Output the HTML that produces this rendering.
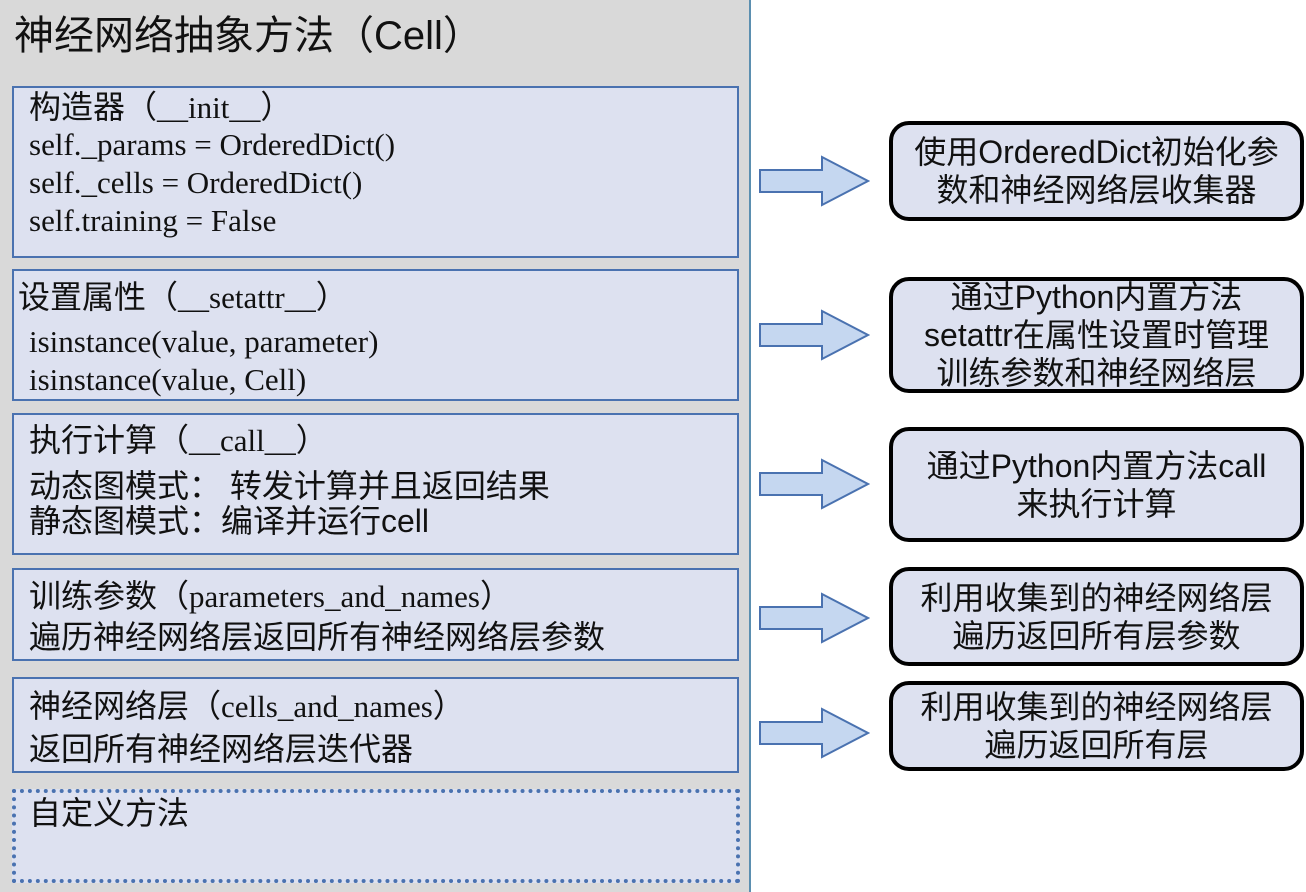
<!DOCTYPE html>
<html><head><meta charset="utf-8"><style>
body{margin:0;width:1306px;height:892px;background:#fff;position:relative;overflow:hidden;font-family:"Liberation Sans","Noto Sans CJK SC",sans-serif;color:#111}
.panel{position:absolute;left:0;top:0;width:749px;height:892px;background:#d9d9d9;border-right:2px solid #5b8fb0}
.b{position:absolute;left:12px;width:723px;background:#dde1f0;border:2px solid #4a72b0}
.t{position:absolute;white-space:nowrap;line-height:1;font-size:32px}
.s{font-family:"Liberation Serif","Noto Sans CJK SC",serif;font-size:31px}
.r{position:absolute;left:889px;width:415px;background:#dde1f0;border:4px solid #000;border-radius:20px;box-sizing:border-box;display:flex;flex-direction:column;justify-content:center;align-items:center;font-size:32px;line-height:38px;text-align:center;white-space:nowrap}
svg{position:absolute;left:758px}
</style></head><body>
<div class="panel"></div>
<div class="t" style="left:14px;top:16px;font-size:40px">神经网络抽象方法（Cell）</div>

<div class="b" style="top:86px;height:168px"></div>
<div class="t" style="left:29px;top:91px">构造器（<span class="s">__init__</span>）</div>
<div class="t s" style="left:29px;top:129px">self._params = OrderedDict()</div>
<div class="t s" style="left:29px;top:167px">self._cells = OrderedDict()</div>
<div class="t s" style="left:29px;top:205px">self.training = False</div>

<div class="b" style="top:269px;height:128px"></div>
<div class="t" style="left:18px;top:281px">设置属性（<span class="s">__setattr__</span>）</div>
<div class="t s" style="left:29px;top:326px">isinstance(value, parameter)</div>
<div class="t s" style="left:29px;top:364px">isinstance(value, Cell)</div>

<div class="b" style="top:413px;height:138px"></div>
<div class="t" style="left:29px;top:424px">执行计算（<span class="s">__call__</span>）</div>
<div class="t" style="left:29px;top:470px">动态图模式： 转发计算并且返回结果</div>
<div class="t" style="left:29px;top:505px">静态图模式：编译并运行cell</div>

<div class="b" style="top:568px;height:89px"></div>
<div class="t" style="left:29px;top:580px">训练参数（<span class="s">parameters_and_names</span>）</div>
<div class="t" style="left:29px;top:621px">遍历神经网络层返回所有神经网络层参数</div>

<div class="b" style="top:677px;height:92px"></div>
<div class="t" style="left:29px;top:690px">神经网络层（<span class="s">cells_and_names</span>）</div>
<div class="t" style="left:29px;top:733px">返回所有神经网络层迭代器</div>

<div class="b" style="top:789px;height:86px;border:4px dotted #4a72b0;width:720px"></div>
<div class="t" style="left:29px;top:797px">自定义方法</div>

<svg width="112" height="892" viewBox="758 0 112 892" style="top:0">
<g fill="#c5d7f0" stroke="#4a72b0" stroke-width="2">
<path d="M760 170 H822 V157 L868 181 L822 205 V192 H760 Z"/>
<path d="M760 324 H822 V311 L868 335 L822 359 V346 H760 Z"/>
<path d="M760 473 H822 V460 L868 484 L822 508 V495 H760 Z"/>
<path d="M760 607 H822 V594 L868 618 L822 642 V629 H760 Z"/>
<path d="M760 722 H822 V709 L868 733 L822 757 V744 H760 Z"/>
</g></svg>

<div class="r" style="top:121px;height:100px">使用OrderedDict初始化参<br>数和神经网络层收集器</div>
<div class="r" style="top:277px;height:116px">通过Python内置方法<br>setattr在属性设置时管理<br>训练参数和神经网络层</div>
<div class="r" style="top:427px;height:115px">通过Python内置方法call<br>来执行计算</div>
<div class="r" style="top:567px;height:99px">利用收集到的神经网络层<br>遍历返回所有层参数</div>
<div class="r" style="top:681px;height:90px">利用收集到的神经网络层<br>遍历返回所有层</div>
</body></html>
